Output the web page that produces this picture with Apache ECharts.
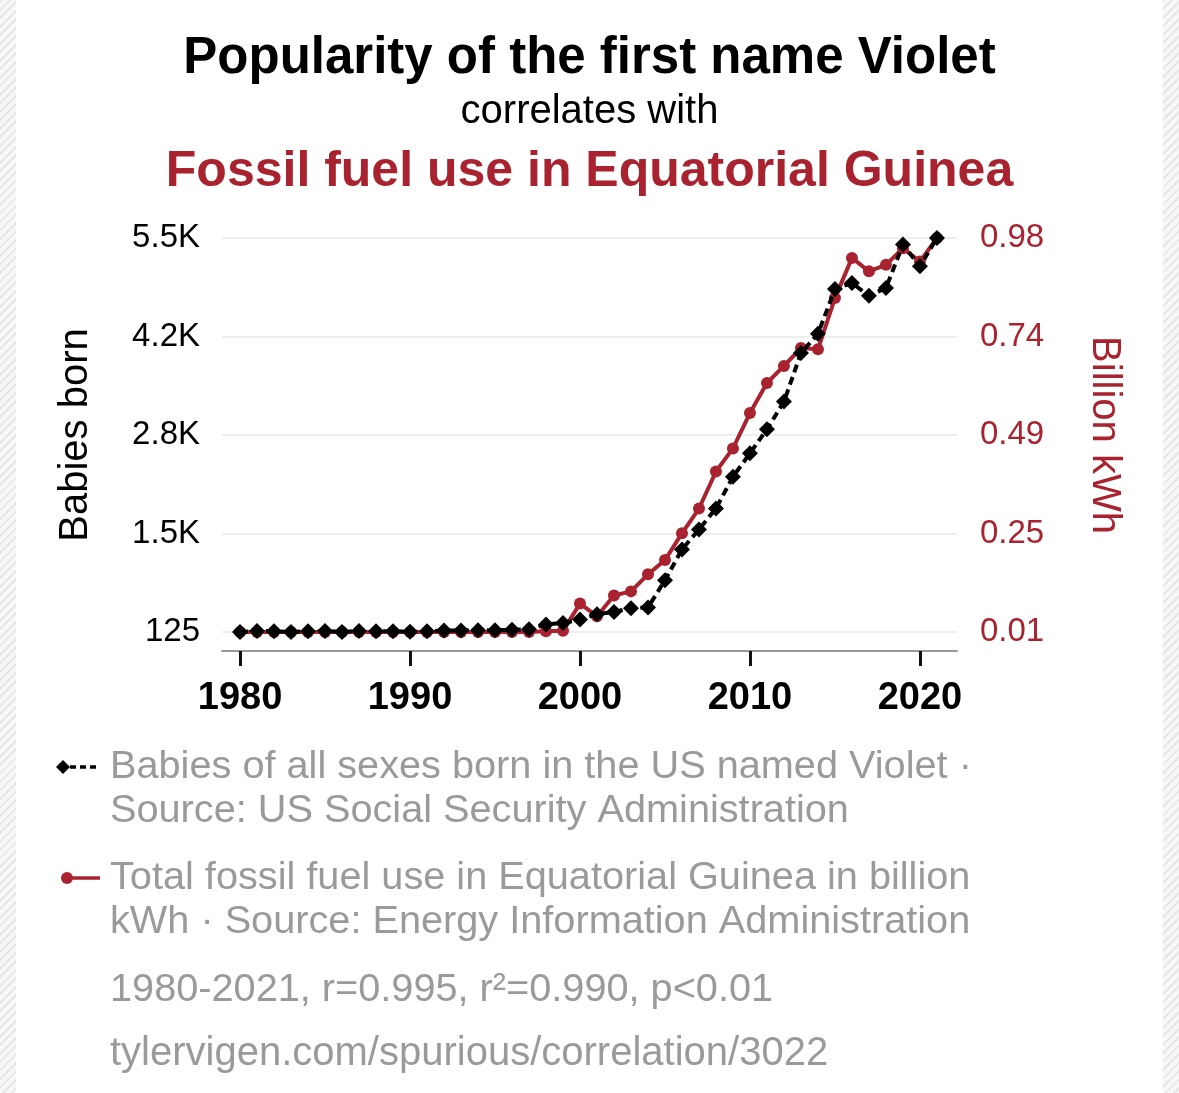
<!DOCTYPE html>
<html>
<head>
<meta charset="utf-8">
<script src="https://cdn.jsdelivr.net/npm/echarts@6/dist/echarts.min.js"></script>
<style>
  html, body { margin: 0; padding: 0; }
  body {
    width: 1179px; height: 1093px; overflow: hidden; position: relative;
    background: repeating-linear-gradient(135deg, #e6e6e6 0 2px, #f7f7f7 2px 6px);
  }
  #card { position: absolute; left: 16px; top: 0; width: 1147px; height: 1093px; background: #fff; }
  #chart { position: absolute; left: 0; top: 0; width: 1179px; height: 1093px; }
</style>
</head>
<body>
<div id="card"></div>
<div id="chart"></div>
<script>
// 数据
const years = [];
for (let y = 1980; y <= 2021; y++) years.push(y);

const violetBabies = [
  125, 140, 135, 125, 135, 140, 125, 140, 135, 135,
  128, 135, 145, 145, 150, 150, 155, 162, 226, 248,
  294, 367, 398, 450, 460, 831, 1251, 1524, 1811, 2243,
  2563, 2891, 3268, 3930, 4193, 4804, 4886, 4713, 4818, 5410,
  5113, 5500
];
const fossilFuelUse = [
  0.01, 0.01, 0.01, 0.01, 0.01, 0.01, 0.01, 0.01, 0.01, 0.01,
  0.01, 0.01, 0.01, 0.01, 0.01, 0.01, 0.01, 0.01, 0.012, 0.013,
  0.08, 0.049, 0.10, 0.11, 0.152, 0.187, 0.253, 0.314, 0.405, 0.462,
  0.549, 0.623, 0.665, 0.709, 0.706, 0.832, 0.931, 0.898, 0.914, 0.955,
  0.922, 0.98
];

const xTicks = [1980, 1990, 2000, 2010, 2020];
const leftTicks = [125, 1468.75, 2812.5, 4156.25, 5500];
const leftTickLabels = ['125', '1.5K', '2.8K', '4.2K', '5.5K'];
const rightTicks = [0.01, 0.2525, 0.495, 0.7375, 0.98];
const rightTickLabels = ['0.01', '0.25', '0.49', '0.74', '0.98'];

const RED = '#a8232f';
const GREY = '#9a9a9a';
const FONT = '"Liberation Sans", Arial, Helvetica, sans-serif';

function pickLabel(ticks, labels, v) {
  let best = 0;
  ticks.forEach((t, i) => { if (Math.abs(t - v) < Math.abs(ticks[best] - v)) best = i; });
  return labels[best];
}

const chart = echarts.init(document.getElementById('chart'), null, { renderer: 'canvas' });

chart.setOption({
  backgroundColor: 'transparent',
  animation: false,
  textStyle: { fontFamily: FONT },
  title: [
    { text: 'Popularity of the first name Violet', left: 'center', top: 31, padding: 0,
      textStyle: { fontSize: 51, lineHeight: 56, fontWeight: 'bold', color: '#000', fontFamily: FONT } },
    { text: 'correlates with', left: 'center', top: 89, padding: 0,
      textStyle: { fontSize: 40, lineHeight: 46, fontWeight: 'normal', color: '#000', fontFamily: FONT } },
    { text: 'Fossil fuel use in Equatorial Guinea', left: 'center', top: 144, padding: 0,
      textStyle: { fontSize: 50, lineHeight: 56, fontWeight: 'bold', color: RED, fontFamily: FONT } }
  ],
  grid: { left: 222, right: 222, top: 238, bottom: 461, outerBoundsMode: 'none' },
  xAxis: {
    type: 'value',
    min: 1978.94,
    max: 2022.18,
    offset: 19,
    axisLine: { show: true, lineStyle: { color: '#999', width: 2 } },
    axisTick: { show: true, customValues: xTicks, length: 15, lineStyle: { color: '#111', width: 3 } },
    axisLabel: { customValues: xTicks, margin: 29, fontSize: 38, fontWeight: 'bold', color: '#000',
      fontFamily: FONT, formatter: v => String(Math.round(v)) },
    splitLine: { show: false }
  },
  yAxis: [
    {
      type: 'value', min: 125, max: 5500, position: 'left',
      name: 'Babies born', nameLocation: 'middle', nameGap: 126,
      nameTextStyle: { fontSize: 40, color: '#000', fontFamily: FONT },
      axisLine: { show: false },
      axisTick: { show: false, customValues: leftTicks },
      axisLabel: { customValues: leftTicks, margin: 22, fontSize: 33, color: '#000', fontFamily: FONT,
        padding: [4, 0, 0, 0], formatter: v => pickLabel(leftTicks, leftTickLabels, v) },
      splitLine: { show: true, lineStyle: { color: '#eeeeee', width: 2 } }
    },
    {
      type: 'value', min: 0.01, max: 0.98, position: 'right',
      name: 'Billion kWh', nameLocation: 'middle', nameGap: 127, nameRotate: -90,
      nameTextStyle: { fontSize: 40, color: RED, fontFamily: FONT },
      axisLine: { show: false },
      axisTick: { show: false, customValues: rightTicks },
      axisLabel: { customValues: rightTicks, margin: 23, fontSize: 33, color: RED, fontFamily: FONT,
        padding: [4, 0, 0, 0], formatter: v => pickLabel(rightTicks, rightTickLabels, v) },
      splitLine: { show: false }
    }
  ],
  series: [
    {
      name: 'Total fossil fuel use in Equatorial Guinea in billion kWh',
      type: 'line',
      yAxisIndex: 1,
      data: years.map((y, i) => [y, fossilFuelUse[i]]),
      symbol: 'circle',
      symbolSize: 12,
      itemStyle: { color: RED },
      lineStyle: { color: RED, width: 4 },
      z: 2
    },
    {
      name: 'Babies of all sexes born in the US named Violet',
      type: 'line',
      yAxisIndex: 0,
      data: years.map((y, i) => [y, violetBabies[i]]),
      symbol: 'diamond',
      symbolSize: 16,
      itemStyle: { color: '#000' },
      lineStyle: { color: '#000', width: 4, type: [8, 5] },
      z: 3
    }
  ],
  graphic: [
    // legend: Violet
    { type: 'line', shape: { x1: 70, y1: 767, x2: 98, y2: 767 },
      style: { stroke: '#000', lineWidth: 3.5, lineDash: [6, 4] } },
    { type: 'polygon', shape: { points: [[63, 760], [70, 767], [63, 774], [56, 767]] },
      style: { fill: '#000' } },
    { type: 'text', left: 110, top: 745,
      style: { text: 'Babies of all sexes born in the US named Violet ·\nSource: US Social Security Administration',
        font: '39.7px ' + FONT, fill: GREY, lineHeight: 44 } },
    // legend: fossil fuel
    { type: 'line', shape: { x1: 66, y1: 878, x2: 100, y2: 878 },
      style: { stroke: RED, lineWidth: 3.5 } },
    { type: 'circle', shape: { cx: 67, cy: 878, r: 6 }, style: { fill: RED } },
    { type: 'text', left: 110, top: 856,
      style: { text: 'Total fossil fuel use in Equatorial Guinea in billion\nkWh · Source: Energy Information Administration',
        font: '39.7px ' + FONT, fill: GREY, lineHeight: 44 } },
    { type: 'text', left: 110, top: 968,
      style: { text: '1980-2021, r=0.995, r²=0.990, p<0.01', font: '39.7px ' + FONT, fill: GREY, lineHeight: 44 } },
    { type: 'text', left: 110, top: 1032,
      style: { text: 'tylervigen.com/spurious/correlation/3022', font: '40px ' + FONT, fill: GREY, lineHeight: 44 } }
  ]
});
</script>
</body>
</html>
